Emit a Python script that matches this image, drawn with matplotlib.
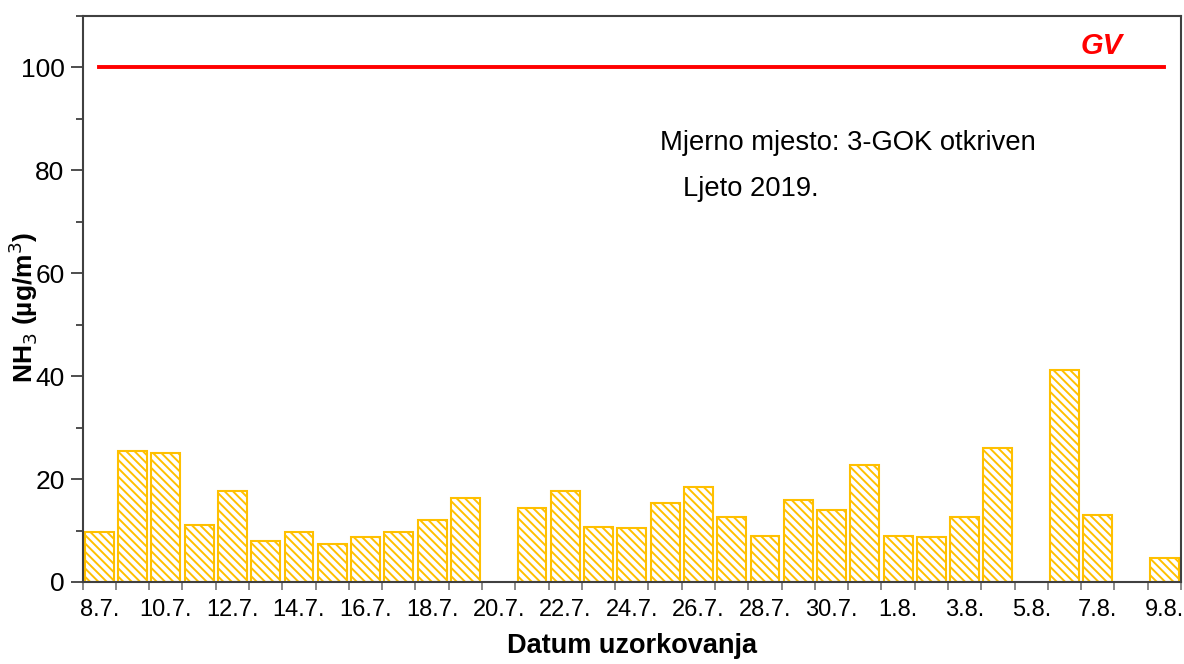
import numpy as np
import matplotlib
matplotlib.use('Agg')
import matplotlib.pyplot as plt
from matplotlib.ticker import MultipleLocator, FixedLocator

plt.rcParams['font.family'] = ['Liberation Sans', 'DejaVu Sans']
plt.rcParams['hatch.linewidth'] = 1.4

# sampling dates 8.7. - 9.8.2019
datumi = ['8.7.', '9.7.', '10.7.', '11.7.', '12.7.', '13.7.', '14.7.', '15.7.',
          '16.7.', '17.7.', '18.7.', '19.7.', '20.7.', '21.7.', '22.7.', '23.7.',
          '24.7.', '25.7.', '26.7.', '27.7.', '28.7.', '29.7.', '30.7.', '31.7.',
          '1.8.', '2.8.', '3.8.', '4.8.', '5.8.', '6.8.', '7.8.', '8.8.', '9.8.']
# NH3 (ug/m3), nan = no sample
nh3 = [9.7, 25.4, 25.0, 11.0, 17.7, 8.0, 9.7, 7.4,
       8.7, 9.7, 12.0, 16.4, np.nan, 14.4, 17.7, 10.7,
       10.4, 15.4, 18.4, 12.7, 9.0, 16.0, 14.0, 22.7,
       9.0, 8.7, 12.7, 26.1, np.nan, 41.1, 13.0, np.nan, 4.7]
gv = 100  # granicna vrijednost

x = np.arange(len(datumi))

fig = plt.figure(figsize=(11.84, 6.64), dpi=100)
ax = fig.add_axes([0.0698, 0.1235, 0.9277, 0.8525])

ax.bar(x, nh3, width=0.87, color='white', edgecolor='#FFC000',
       hatch='\\\\\\\\', linewidth=1.5, zorder=2)

ax.plot([x[0], x[-1]], [gv, gv], color='#FF0000', lw=2.8, zorder=3)
ax.text(30.1, 104.2, 'GV', color='#FF0000', fontsize=21, fontweight='bold',
        fontstyle='italic', ha='center', va='center')

ax.text(0.526, 0.776, 'Mjerno mjesto: 3-GOK otkriven', transform=ax.transAxes,
        fontsize=19.7, ha='left', va='center')
ax.text(0.547, 0.695, 'Ljeto 2019.', transform=ax.transAxes,
        fontsize=19.7, ha='left', va='center')

ax.set_xlim(-0.5, len(datumi) - 0.5)
ax.set_ylim(0, 110)

# y axis
ax.yaxis.set_major_locator(FixedLocator([0, 20, 40, 60, 80, 100]))
ax.yaxis.set_minor_locator(MultipleLocator(10))
ax.tick_params(axis='y', which='major', length=9, width=1.3, colors='#404040',
               labelcolor='black', labelsize=19, pad=4)
ax.tick_params(axis='y', which='minor', length=5, width=1.3, colors='#404040')

# x axis: labels on every second bar, ticks between bars
ax.set_xticks(x[::2])
ax.set_xticklabels(datumi[::2])
ax.set_xticks(np.arange(-0.5, len(datumi), 1), minor=True)
ax.tick_params(axis='x', which='major', length=0, labelsize=17, pad=12)
ax.tick_params(axis='x', which='minor', length=6, width=1.3, colors='#808080')

for s in ax.spines.values():
    s.set_color('#404040')
    s.set_linewidth(1.5)

ax.set_ylabel('NH$_3$ (µg/m$^3$)', fontsize=19, fontweight='bold')
ax.yaxis.set_label_coords(-0.039, 0.485)
ax.set_xlabel('Datum uzorkovanja', fontsize=19.5, fontweight='bold')
ax.xaxis.set_label_coords(0.5, -0.09)

fig.savefig('out.png', dpi=100)
